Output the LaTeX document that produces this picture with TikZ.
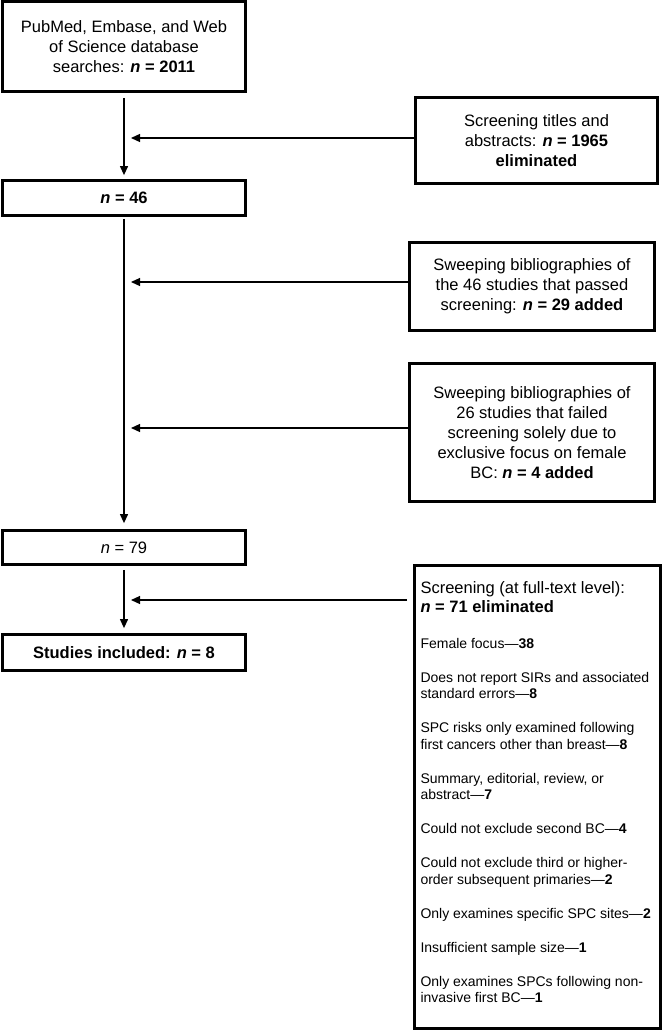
\documentclass[tikz,border=0pt]{standalone}
\usepackage{fontspec}
\setmainfont{Liberation Sans}
\usepackage{tikz}
\usetikzlibrary{arrows.meta,calc}

\tikzset{
  box/.style={draw=black,line width=2.8pt,fill=white,align=center,inner sep=0pt,
    font=\fontsize{16.5}{20}\selectfont},
  flow/.style={line width=1.2pt,-{Triangle[length=9pt,width=8pt]}}
}

\begin{document}
\begin{tikzpicture}[x=1pt,y=-1pt]
\useasboundingbox (0,0) rectangle (663,1033);

\node[box,minimum width=243pt,minimum height=90pt] (src) at (124,46.5)
  {PubMed, Embase, and Web\\of Science database\\searches: \textbf{\textit{n} = 2011}};
\node[box,minimum width=243pt,minimum height=35pt] (n46) at (124,198) {\textbf{\textit{n} = 46}};
\node[box,minimum width=243pt,minimum height=34pt] (n79) at (124,547.5) {\textit{n} = 79};
\node[box,minimum width=243pt,minimum height=36pt] (incl) at (124,652.5)
  {\textbf{Studies included: \textit{n} = 8}};

\node[box,minimum width=242pt,minimum height=86pt] (scr) at (536.5,140.5)
  {Screening titles and\\abstracts: \textbf{\textit{n} = 1965}\\\textbf{eliminated}};
\node[box,minimum width=245pt,minimum height=88pt] (swpa) at (532,286.5)
  {Sweeping bibliographies of\\the 46 studies that passed\\screening: \textbf{\textit{n} = 29 added}};
\node[box,minimum width=245pt,minimum height=138pt] (swpb) at (532,432.5)
  {Sweeping bibliographies of\\26 studies that failed\\screening solely due to\\exclusive focus on female\\BC: \textbf{\textit{n} = 4 added}};

\node[draw=black,line width=2.8pt,fill=white,inner xsep=6pt,inner ysep=0pt] (full) at (537.5,797)
  {\parbox[c][463pt][t]{234pt}{\raggedright
   \fontsize{16.5}{19}\selectfont\rule{0pt}{27.5pt}Screening (at full-text level):\\
   \textbf{\textit{n} = 71 eliminated}\par
   \fontsize{14}{16.5}\selectfont\setlength{\parskip}{17.5pt}\vspace{2pt}
   Female focus---\textbf{38}\par
   Does not report SIRs and associated\\standard errors---\textbf{8}\par
   SPC risks only examined following\\first cancers other than breast---\textbf{8}\par
   Summary, editorial, review, or\\abstract---\textbf{7}\par
   Could not exclude second BC---\textbf{4}\par
   Could not exclude third or higher-\\order subsequent primaries---\textbf{2}\par
   Only examines specific SPC sites---\textbf{2}\par
   Insufficient sample size---\textbf{1}\par
   Only examines SPCs following non-\\invasive first BC---\textbf{1}\par}};

\coordinate (ja) at (131,138);
\coordinate (jb) at (131,282);
\coordinate (jc) at (131,428);
\coordinate (jd) at (131,600);

\draw[flow] ([yshift=-5pt]src.south) -- ([yshift=4pt]n46.north);
\draw[flow] ([yshift=-2pt]n46.south) -- ([yshift=6pt]n79.north);
\draw[flow] ([yshift=-4pt]n79.south) -- ([yshift=5pt]incl.north);

\draw[flow] (scr.west |- ja) -- (ja);
\draw[flow] (swpa.west |- jb) -- (jb);
\draw[flow] (swpb.west |- jc) -- (jc);
\draw[flow] ([xshift=-6pt]full.west |- jd) -- (jd);
\end{tikzpicture}
\end{document}
